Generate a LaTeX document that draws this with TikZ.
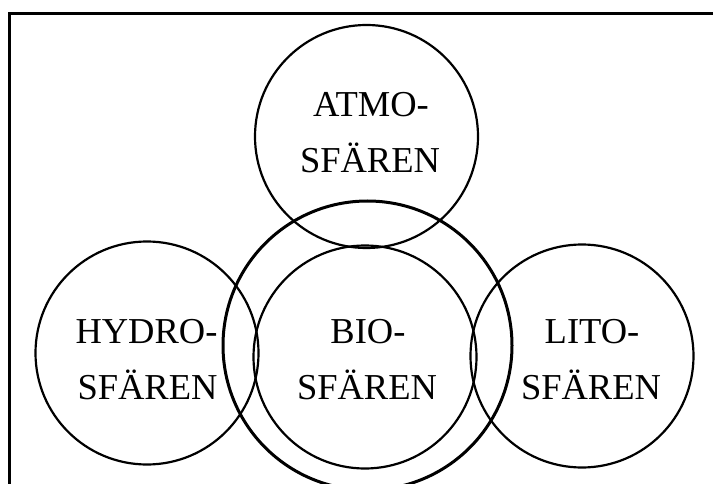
\documentclass[tikz,border=0pt]{standalone}
\usepackage{fontspec}
\setmainfont{Liberation Serif}
\begin{document}
\begin{tikzpicture}[x=1pt,y=-1pt,
  sphere/.style={draw, circle, line width=2.2pt, minimum size=223pt, inner sep=0pt},
  bioring/.style={draw, circle, line width=3pt, minimum size=289pt, inner sep=0pt},
  lbl/.style={anchor=base, inner sep=0pt, font=\fontsize{36.5}{56}\selectfont}]
  \useasboundingbox (0,0) rectangle (713,484);
  \clip (0,0) rectangle (713,484);
  % frame
  \draw[line width=3.6pt] (720,13.5) -- (9.5,13.5) -- (9.5,490);
  % spheres
  \node[sphere] (atmo)  at (366.5,136.5) {};
  \node[sphere] (hydro) at (147,353) {};
  \node[sphere] (lito)  at (582,356) {};
  \node[sphere] (bio)   at (365,357) {};
  \node[bioring] (biosfar) at (367.5,345.5) {};
  % labels
  \node[lbl] (atmo1)  at (371,117) {ATMO-};
  \node[lbl] (atmo2)  at (370,173) {SFÄREN};
  \node[lbl] (hydro1) at (146.5,343) {HYDRO-};
  \node[lbl] (hydro2) at (147.5,399) {SFÄREN};
  \node[lbl] (bio1)   at (368,343) {BIO-};
  \node[lbl] (bio2)   at (367,399) {SFÄREN};
  \node[lbl] (lito1)  at (592,343) {LITO-};
  \node[lbl] (lito2)  at (591,399) {SFÄREN};
\end{tikzpicture}
\end{document}
